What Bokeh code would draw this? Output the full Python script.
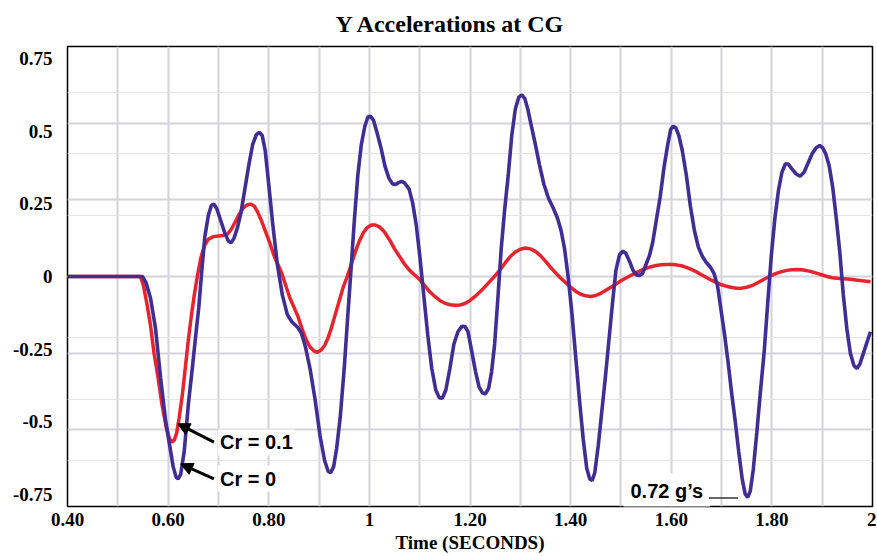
from bokeh.plotting import figure
from bokeh.models import (Range1d, FixedTicker, LinearAxis, Grid, Label, Arrow,
                          NormalHead)
from bokeh.embed import file_html
from bokeh.resources import INLINE

# ---------------- data ----------------
TITLE = "Y Accelerations at CG"
X_LABEL = "Time (SECONDS)"

x_tick_values = [0.4, 0.6, 0.8, 1.0, 1.2, 1.4, 1.6, 1.8, 2.0]
x_tick_labels = ["0.40", "0.60", "0.80", "1", "1.20", "1.40", "1.60", "1.80", "2"]
x_minor_values = [0.5, 0.7, 0.9, 1.1, 1.3, 1.5, 1.7, 1.9]

y_tick_values = [-0.75, -0.5, -0.25, 0.0, 0.25, 0.5, 0.75]
y_tick_labels = ["-0.75", "-0.5", "-0.25", "0", "0.25", "0.5", "0.75"]
y_grid_values = [-0.5, -0.25, 0.0, 0.25, 0.5]

# Cr = 0 (blue)
cr0_t = [0.400, 0.549, 0.556, 0.565, 0.575, 0.585, 0.595, 0.602, 0.610, 0.616,
         0.620, 0.625, 0.632, 0.640, 0.648, 0.655, 0.661, 0.667, 0.673, 0.680,
         0.686, 0.691, 0.697, 0.705, 0.713, 0.720, 0.725, 0.731, 0.738, 0.745,
         0.752, 0.760, 0.768, 0.775, 0.781, 0.787, 0.793, 0.800, 0.808, 0.817,
         0.827, 0.837, 0.847, 0.857, 0.865, 0.873, 0.882, 0.892, 0.902, 0.911,
         0.918, 0.923, 0.929, 0.935, 0.942, 0.950, 0.957, 0.963, 0.970, 0.977,
         0.984, 0.991, 0.997, 1.002, 1.008, 1.015, 1.023, 1.031, 1.039, 1.046,
         1.052, 1.058, 1.064, 1.070, 1.079, 1.086, 1.093, 1.100, 1.108, 1.116,
         1.124, 1.132, 1.139, 1.145, 1.152, 1.160, 1.168, 1.176, 1.184, 1.190,
         1.196, 1.203, 1.211, 1.218, 1.225, 1.231, 1.237, 1.243, 1.249, 1.255,
         1.262, 1.269, 1.276, 1.283, 1.290, 1.297, 1.303, 1.309, 1.315, 1.322,
         1.330, 1.338, 1.347, 1.356, 1.365, 1.374, 1.381, 1.388, 1.395, 1.402,
         1.410, 1.418, 1.425, 1.432, 1.438, 1.443, 1.448, 1.455, 1.462, 1.469,
         1.476, 1.483, 1.490, 1.497, 1.504, 1.510, 1.517, 1.524, 1.531, 1.537,
         1.543, 1.550, 1.557, 1.563, 1.570, 1.578, 1.586, 1.593, 1.599, 1.604,
         1.609, 1.615, 1.622, 1.630, 1.638, 1.646, 1.654, 1.662, 1.670, 1.678,
         1.685, 1.692, 1.699, 1.706, 1.713, 1.720, 1.727, 1.734, 1.741, 1.747,
         1.752, 1.757, 1.763, 1.770, 1.777, 1.785, 1.792, 1.799, 1.806, 1.813,
         1.820, 1.827, 1.833, 1.840, 1.848, 1.856, 1.864, 1.872, 1.880, 1.888,
         1.895, 1.901, 1.907, 1.914, 1.921, 1.928, 1.935, 1.942, 1.949, 1.956,
         1.963, 1.969, 1.975, 1.982, 1.989, 1.996]
cr0_g = [0.0, 0.0, -0.02, -0.07, -0.17, -0.33, -0.47, -0.54, -0.62, -0.655,
         -0.66, -0.645, -0.57, -0.42, -0.30, -0.19, -0.10, 0.02, 0.13, 0.20,
         0.232, 0.236, 0.22, 0.18, 0.14, 0.115, 0.11, 0.125, 0.16, 0.21,
         0.28, 0.36, 0.43, 0.462, 0.470, 0.46, 0.41, 0.30, 0.17, 0.04,
         -0.06, -0.125, -0.15, -0.165, -0.185, -0.23, -0.30, -0.40, -0.52, -0.60,
         -0.635, -0.64, -0.62, -0.56, -0.46, -0.30, -0.13, 0.01, 0.18, 0.33,
         0.43, 0.49, 0.52, 0.523, 0.51, 0.47, 0.42, 0.36, 0.32, 0.302,
         0.30, 0.306, 0.31, 0.305, 0.285, 0.24, 0.17, 0.07, -0.06, -0.19,
         -0.30, -0.37, -0.395, -0.397, -0.37, -0.30, -0.22, -0.18, -0.162, -0.163,
         -0.18, -0.24, -0.31, -0.36, -0.38, -0.382, -0.365, -0.31, -0.22, -0.08,
         0.09, 0.22, 0.33, 0.46, 0.545, 0.585, 0.592, 0.58, 0.545, 0.49,
         0.43, 0.365, 0.30, 0.255, 0.225, 0.19, 0.15, 0.09, 0.0, -0.11,
         -0.26, -0.41, -0.53, -0.625, -0.66, -0.665, -0.64, -0.55, -0.44, -0.33,
         -0.21, -0.09, 0.02, 0.07, 0.083, 0.075, 0.05, 0.02, 0.005, 0.003,
         0.01, 0.04, 0.07, 0.11, 0.18, 0.26, 0.36, 0.43, 0.48, 0.49,
         0.485, 0.46, 0.41, 0.33, 0.23, 0.15, 0.095, 0.065, 0.045, 0.03,
         0.01, -0.03, -0.11, -0.19, -0.28, -0.38, -0.47, -0.57, -0.66, -0.71,
         -0.72, -0.70, -0.63, -0.51, -0.38, -0.24, -0.08, 0.07, 0.19, 0.28,
         0.34, 0.368, 0.366, 0.35, 0.335, 0.327, 0.34, 0.37, 0.40, 0.42,
         0.427, 0.42, 0.40, 0.36, 0.29, 0.19, 0.08, -0.06, -0.17, -0.25,
         -0.29, -0.30, -0.285, -0.25, -0.215, -0.18]

# Cr = 0.1 (red)
cr01_t = [0.400, 0.545, 0.551, 0.558, 0.565, 0.572, 0.580, 0.588, 0.596, 0.602,
          0.607, 0.612, 0.617, 0.622, 0.628, 0.634, 0.640, 0.646, 0.652, 0.658,
          0.665, 0.672, 0.680, 0.690, 0.700, 0.710, 0.718, 0.726, 0.734, 0.742,
          0.750, 0.757, 0.764, 0.771, 0.778, 0.786, 0.794, 0.802, 0.810, 0.818,
          0.826, 0.834, 0.842, 0.850, 0.858, 0.866, 0.874, 0.882, 0.890, 0.897,
          0.904, 0.911, 0.918, 0.925, 0.932, 0.940, 0.948, 0.956, 0.964, 0.972,
          0.980, 0.988, 0.996, 1.004, 1.012, 1.020, 1.030, 1.040, 1.050, 1.060,
          1.070, 1.080, 1.090, 1.100, 1.110, 1.120, 1.130, 1.140, 1.150, 1.160,
          1.170, 1.180, 1.190, 1.200, 1.210, 1.220, 1.230, 1.240, 1.250, 1.260,
          1.270, 1.280, 1.290, 1.300, 1.310, 1.320, 1.330, 1.340, 1.350, 1.360,
          1.370, 1.380, 1.390, 1.400, 1.410, 1.420, 1.430, 1.440, 1.450, 1.460,
          1.470, 1.480, 1.490, 1.500, 1.510, 1.520, 1.530, 1.540, 1.550, 1.560,
          1.570, 1.580, 1.590, 1.600, 1.610, 1.620, 1.630, 1.640, 1.650, 1.660,
          1.670, 1.680, 1.690, 1.700, 1.710, 1.720, 1.730, 1.740, 1.750, 1.760,
          1.770, 1.780, 1.790, 1.800, 1.810, 1.820, 1.830, 1.840, 1.850, 1.860,
          1.870, 1.880, 1.890, 1.900, 1.910, 1.920, 1.930, 1.940, 1.950, 1.960,
          1.970, 1.980, 1.996]
cr01_g = [0.0, 0.0, -0.03, -0.09, -0.16, -0.25, -0.33, -0.42, -0.49, -0.525,
          -0.54, -0.535, -0.51, -0.46, -0.39, -0.30, -0.21, -0.13, -0.06, 0.0,
          0.06, 0.10, 0.122, 0.13, 0.132, 0.134, 0.138, 0.155, 0.18, 0.205,
          0.225, 0.233, 0.236, 0.23, 0.21, 0.18, 0.145, 0.11, 0.07, 0.04,
          0.01, -0.03, -0.07, -0.10, -0.13, -0.17, -0.205, -0.23, -0.243, -0.247,
          -0.24, -0.225, -0.20, -0.165, -0.125, -0.08, -0.035, 0.0, 0.04, 0.08,
          0.115, 0.143, 0.16, 0.168, 0.168, 0.162, 0.145, 0.12, 0.09, 0.065,
          0.04, 0.02, 0.005, -0.01, -0.03, -0.05, -0.065, -0.078, -0.087, -0.092,
          -0.094, -0.093, -0.088, -0.078, -0.065, -0.05, -0.033, -0.015, 0.003, 0.022,
          0.045, 0.065, 0.08, 0.089, 0.093, 0.09, 0.082, 0.068, 0.05, 0.03,
          0.012, -0.005, -0.02, -0.035, -0.048, -0.058, -0.063, -0.065, -0.062, -0.055,
          -0.045, -0.035, -0.025, -0.014, -0.005, 0.004, 0.012, 0.02, 0.027, 0.032,
          0.036, 0.038, 0.039, 0.039, 0.038, 0.035, 0.03, 0.023, 0.015, 0.006,
          -0.003, -0.012, -0.02, -0.027, -0.032, -0.036, -0.038, -0.038, -0.035, -0.03,
          -0.022, -0.013, -0.004, 0.004, 0.011, 0.016, 0.02, 0.022, 0.023, 0.022,
          0.019, 0.015, 0.01, 0.005, 0.0, -0.004, -0.006, -0.007, -0.008, -0.01,
          -0.012, -0.014, -0.017]

# ---------------- styling / layout ----------------
SERIF = "Liberation Serif"
SANS = "Liberation Sans"
RED = "#E8232D"
BLUE = "#412D96"
GRID = "#D3D3DB"

p = figure(width=876, height=555, output_backend="svg", toolbar_location=None,
           x_range=Range1d(0.4, 2.0), y_range=Range1d(-0.75, 0.75),
           y_axis_location=None,
           min_border_left=67, min_border_right=4, min_border_top=46,
           min_border_bottom=49)
p.background_fill_color = "white"
p.border_fill_color = "white"
p.outline_line_color = "black"
p.outline_line_width = 1.5
p.outline_line_alpha = 1.0

p.title.text = TITLE
p.title.text_font = SERIF
p.title.text_font_size = "24px"
p.title.text_font_style = "bold"
p.title.text_color = "black"
p.title.align = "left"
p.title.offset = 268
p.title.vertical_align = "top"
p.title.standoff = 15

# x axis
xa = p.xaxis[0]
xa.ticker = FixedTicker(ticks=x_tick_values, minor_ticks=x_minor_values)
xa.major_label_overrides = dict(zip(x_tick_values, x_tick_labels))
xa.axis_label = X_LABEL
xa.axis_label_text_font = SERIF
xa.axis_label_text_font_style = "bold"
xa.axis_label_text_font_size = "19px"
xa.axis_label_text_color = "black"
xa.axis_label_standoff = 3
xa.major_label_text_font = SERIF
xa.major_label_text_font_style = "bold"
xa.major_label_text_font_size = "19px"
xa.major_label_text_color = "black"
xa.major_label_standoff = 6
xa.axis_line_color = None
xa.major_tick_line_color = None
xa.minor_tick_line_color = None
xa.major_tick_out = 0
xa.major_tick_in = 0
xa.minor_tick_out = 0
xa.minor_tick_in = 0

p.xgrid.ticker = FixedTicker(ticks=x_minor_values + x_tick_values[1:-1])
p.xgrid.grid_line_color = GRID
p.xgrid.grid_line_width = 2

# y grid
p.add_layout(Grid(dimension=1, ticker=FixedTicker(ticks=y_grid_values),
                  grid_line_color=GRID, grid_line_width=2))

# y labels (placed like the reference, slightly inset from the frame ends)
p.extra_y_ranges = {"lab": Range1d(-0.7913, 0.7913)}
ya = LinearAxis(y_range_name="lab",
                ticker=FixedTicker(ticks=y_tick_values),
                major_label_overrides=dict(zip(y_tick_values, y_tick_labels)))
ya.major_label_text_font = SERIF
ya.major_label_text_font_style = "bold"
ya.major_label_text_font_size = "19px"
ya.major_label_text_color = "black"
ya.major_label_standoff = 15
ya.axis_line_color = None
ya.major_tick_line_color = None
ya.minor_tick_line_color = None
ya.major_tick_out = 0
ya.major_tick_in = 0
ya.minor_tick_out = 0
ya.minor_tick_in = 0
p.add_layout(ya, "left")

# series
p.line(cr01_t, cr01_g, line_color=RED, line_width=3.5)
p.line(cr0_t, cr0_g, line_color=BLUE, line_width=3.6)

# annotations
for txt, ty in (("Cr = 0.1", -0.541), ("Cr = 0", -0.659)):
    p.add_layout(Label(x=0.699, y=ty, text=txt, text_font=SANS,
                       text_font_style="bold", text_font_size="20px",
                       text_color="black", text_baseline="middle",
                       text_align="left", background_fill_color="white",
                       padding=2))
for (x0, y0, x1, y1) in ((0.691, -0.540, 0.619, -0.480),
                         (0.691, -0.660, 0.625, -0.611)):
    p.add_layout(Arrow(x_start=x0, y_start=y0, x_end=x1, y_end=y1,
                       line_color="black", line_width=3,
                       end=NormalHead(size=12, fill_color="black",
                                      line_color="black", line_width=1)))

p.add_layout(Label(x=1.505, y=-0.701, text="0.72 g\u2019s", text_font=SANS,
                   text_font_style="bold", text_font_size="20px",
                   text_color="black", text_baseline="middle", text_align="left",
                   background_fill_color="white", padding=7))
p.add_layout(Arrow(x_start=1.675, y_start=-0.722, x_end=1.733, y_end=-0.722,
                   line_color="#333333", line_width=1.5, end=None))

open("out.html", "w").write(file_html(p, INLINE))
